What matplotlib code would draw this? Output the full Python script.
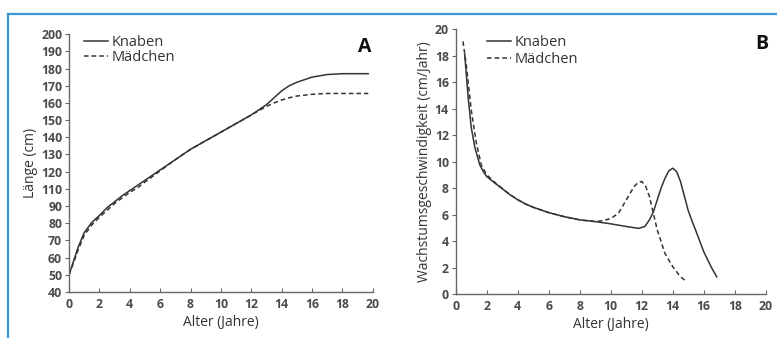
import matplotlib
matplotlib.use("Agg")
import matplotlib.pyplot as plt
import numpy as np
from matplotlib.lines import Line2D

# Panel A: Laenge (cm)
age_a_boys = [0, 0.3, 0.6, 1, 1.5, 2, 2.5, 3, 3.5, 4, 4.5, 5, 6, 7, 8, 9, 10, 11, 12, 13, 13.5, 14, 14.5, 15, 16, 17, 18, 19.7]
len_boys = [50, 58, 66, 74.5, 80.5, 84.5, 89, 95, 102, 108, 112, 115, 121, 127, 133, 138, 143, 148, 153, 159, 163, 167, 170, 172, 175, 176.5, 177, 177]
age_a_girls = [0, 0.3, 0.6, 1, 1.5, 2, 2.5, 3, 3.5, 4, 4.5, 5, 6, 7, 8, 9, 10, 11, 12, 13, 13.5, 14, 14.5, 15, 16, 17, 18, 19.7]
len_girls = [50, 57, 64.5, 73, 79, 83.5, 87.5, 93, 99.5, 106, 110.5, 114, 120.5, 127, 133, 138, 143, 148, 153, 158, 160, 161.7, 163, 164, 165, 165.5, 165.5, 165.5]

# Panel B: Wachstumsgeschwindigkeit (cm/Jahr)
age_b_boys = [0.58, 0.8, 1.0, 1.23, 1.55, 1.8, 2, 2.5, 3, 3.5, 4, 4.5, 5, 6, 7, 8, 9, 10, 11, 11.8, 12.2, 12.5, 12.75, 13, 13.25, 13.5, 13.75, 14, 14.25, 14.5, 14.75, 15, 15.25, 15.5, 16, 16.5, 16.84]
vel_boys = [18.1, 14.9, 12.6, 11.1, 9.75, 9.2, 8.87, 8.4, 7.95, 7.5, 7.12, 6.8, 6.55, 6.15, 5.84, 5.6, 5.47, 5.3, 5.1, 4.96, 5.1, 5.6, 6.2, 7.1, 8.0, 8.74, 9.3, 9.5, 9.25, 8.5, 7.4, 6.3, 5.5, 4.75, 3.2, 2.0, 1.3]
age_b_girls = [0.47, 0.69, 1.0, 1.33, 1.65, 2, 2.5, 3, 3.5, 4, 4.5, 5, 6, 7, 8, 9, 9.5, 10, 10.5, 11, 11.5, 11.75, 12, 12.25, 12.5, 12.75, 13, 13.5, 14, 14.5, 14.9]
vel_girls = [19.07, 17.2, 13.9, 11.4, 9.75, 9.0, 8.45, 7.98, 7.5, 7.12, 6.8, 6.55, 6.15, 5.84, 5.6, 5.47, 5.54, 5.7, 6.1, 7.1, 8.1, 8.4, 8.5, 8.15, 7.35, 6.1, 4.84, 3.07, 2.07, 1.3, 0.93]

len_ticks = [40, 50, 60, 70, 80, 90, 110, 120, 130, 140, 150, 160, 170, 180, 190, 200]
vel_ticks = list(range(0, 21, 2))
age_ticks = list(range(0, 21, 2))

ink = "#333333"
tick_col = "#4a4a4a"
plt.rcParams["font.family"] = ["Open Sans", "DejaVu Sans"]


def fwd(v):
    v = np.asarray(v, float)
    return np.where(v <= 90, v, np.where(v >= 110, v - 10, 90 + (v - 90) / 2))


def inv(p):
    p = np.asarray(p, float)
    return np.where(p <= 90, p, np.where(p >= 100, p + 10, 90 + (p - 90) * 2))


fig = plt.figure(figsize=(7.77, 3.38), dpi=100)
ax1 = fig.add_axes([0.0888, 0.136, 0.391, 0.763])
ax2 = fig.add_axes([0.5865, 0.130, 0.399, 0.784])

ax1.plot(age_a_boys, len_boys, color=ink, lw=1.1, label="Knaben")
ax1.plot(age_a_girls, len_girls, color=ink, lw=1.1, ls=(0, (3, 2)), label="Mädchen")
ax1.set_yscale("function", functions=(fwd, inv))
ax1.set_ylim(40, 200)
ax1.set_yticks(len_ticks)
ax1.set_yticklabels([str(t) for t in len_ticks])
ax1.set_ylabel("Länge (cm)", fontsize=10, color=ink, labelpad=2)
ax1.text(0.997, 0.99, "A", transform=ax1.transAxes, fontsize=14, fontweight="bold",
         ha="right", va="top", color="#111111")
ax1.legend(loc="upper left", bbox_to_anchor=(0.02, 1.03), frameon=False, fontsize=10.5,
           handlelength=1.65, handletextpad=0.25, labelspacing=0.0, borderaxespad=0.2,
           labelcolor=ink)

ax2.plot(age_b_boys, vel_boys, color=ink, lw=1.1, label="Knaben")
ax2.plot(age_b_girls, vel_girls, color=ink, lw=1.1, ls=(0, (3, 2)), label="Mädchen")
ax2.set_ylim(0, 20)
ax2.set_yticks(vel_ticks)
ax2.set_ylabel("Wachstumsgeschwindigkeit (cm/Jahr)", fontsize=10, color=ink, labelpad=2)
ax2.text(1.007, 0.981, "B", transform=ax2.transAxes, fontsize=14, fontweight="bold",
         ha="right", va="top", color="#111111")
ax2.legend(loc="upper left", bbox_to_anchor=(0.072, 1.01), frameon=False, fontsize=10.5,
           handlelength=1.65, handletextpad=0.25, labelspacing=0.15, borderaxespad=0.2,
           labelcolor=ink)

for ax in (ax1, ax2):
    ax.set_xlim(0, 20)
    ax.set_xticks(age_ticks)
    ax.set_xlabel("Alter (Jahre)", fontsize=10, color=ink, labelpad=3)
    for s in ("top", "right"):
        ax.spines[s].set_visible(False)
    for s in ("left", "bottom"):
        ax.spines[s].set_color("#666666")
        ax.spines[s].set_linewidth(1.0)
    ax.tick_params(axis="y", direction="out", length=3, width=0.8, colors="#666666",
                   labelcolor=tick_col, labelsize=8.8, pad=2)
    ax.tick_params(axis="x", direction="in", length=3, width=0.8, colors="#666666",
                   labelcolor=tick_col, labelsize=8.8, pad=4)
    for lab in ax.get_xticklabels() + ax.get_yticklabels():
        lab.set_fontweight("bold")

# blue frame of the figure
fig.add_artist(Line2D([8 / 777, 1], [1 - 14 / 338] * 2, transform=fig.transFigure,
                      color="#3c97d3", lw=1.6))
fig.add_artist(Line2D([8 / 777] * 2, [0, 1 - 14 / 338], transform=fig.transFigure,
                      color="#3c97d3", lw=1.6))

fig.savefig("out.png", dpi=100)
